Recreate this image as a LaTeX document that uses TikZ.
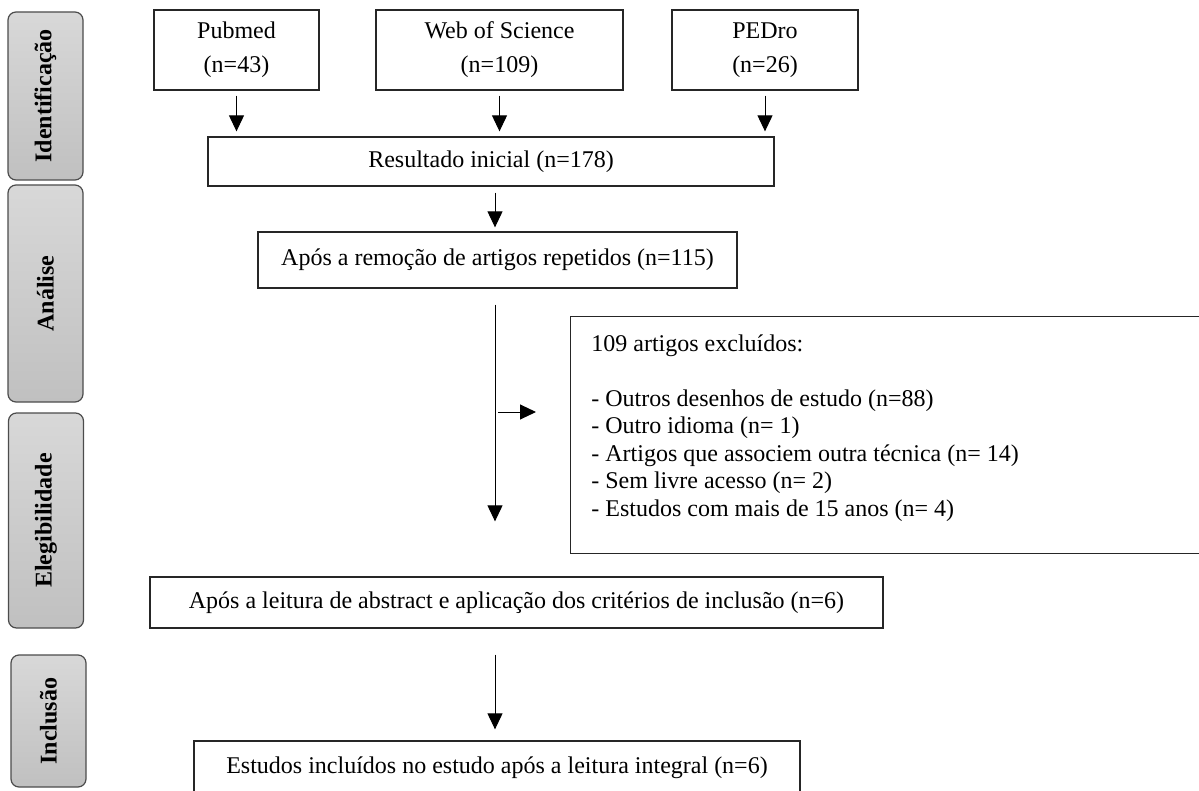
\documentclass[tikz,border=0pt]{standalone}
\usepackage{fontspec}
\setmainfont{Liberation Serif}
\usetikzlibrary{arrows.meta,positioning}
\definecolor{phasetop}{RGB}{216,216,216}
\definecolor{phasebot}{RGB}{192,192,192}

\begin{document}
\begin{tikzpicture}[x=0.5pt,y=-0.5pt,
  box/.style={draw=black!85, line width=0.65pt, align=center, inner sep=0pt, font=\fontsize{12}{17}\selectfont},
  phase/.style={draw=black!70, line width=0.6pt, rounded corners=4pt, top color=phasetop, bottom color=phasebot, minimum width=37.5pt, inner sep=0pt, font=\fontsize{12}{14}\selectfont\bfseries},
  arr/.style={line width=0.5pt, -{Triangle[width=7.5pt,length=8pt]}}]
\useasboundingbox (0,0) rectangle (1199,791);
% phase labels on the left
\foreach \nm/\x/\y/\h/\txt in {ident/45.5/96/84/Identificação, anal/45.5/293.5/108.5/Análise, eleg/46/520.5/107.5/Elegibilidade, incl/48.5/721/66/Inclusão}
  \node[phase, minimum height=\h pt] (\nm) at (\x,\y) {\rotatebox{90}{\txt}};

% databases
\node[box, minimum width=82.5pt, minimum height=40pt] (pub) at (236.5,50) {Pubmed\\(n=43)};
\node[box, minimum width=123.5pt, minimum height=40pt] (web) at (499.5,50) {Web of Science\\(n=109)};
\node[box, minimum width=93pt, minimum height=40pt] (ped) at (765,50) {PEDro\\(n=26)};

% screening steps
\node[box, minimum width=283pt, minimum height=24.5pt] (res) at (491,161.5) {Resultado inicial (n=178)};
\node[box, minimum width=239.5pt, minimum height=28pt] (rem) at (497.5,260) {Após a remoção de artigos repetidos (n=115)};
\node[box, anchor=north west, minimum width=340pt, minimum height=118.5pt] (exc) at (570,316) {};
\node[anchor=north west, align=left, inner sep=0pt, font=\fontsize{12}{13.75}\selectfont] (exclist) at (591,334)
  {109 artigos excluídos:\\[13.75pt]
   - Outros desenhos de estudo (n=88)\\
   - Outro idioma (n= 1)\\
   - Artigos que associem outra técnica (n= 14)\\
   - Sem livre acesso (n= 2)\\
   - Estudos com mais de 15 anos (n= 4)};
\node[box, minimum width=366.5pt, minimum height=25.5pt] (lei) at (516.5,602.5) {Após a leitura de abstract e aplicação dos critérios de inclusão (n=6)};
\node[box, minimum width=303pt, minimum height=27pt] (est) at (497,768) {Estudos incluídos no estudo após a leitura integral (n=6)};

% arrows
\coordinate (spine) at (495,0);
\coordinate (side) at (498,412);
\foreach \n in {pub,web,ped}
  \draw[arr, shorten <=2.5pt, shorten >=2.5pt] (\n.south) -- (\n.south |- res.north);
\draw[arr, shorten <=3pt, shorten >=2pt] (spine |- res.south) -- (spine |- rem.north);
\draw[arr, shorten <=8pt, shorten >=27.5pt] (spine |- rem.south) -- (spine |- lei.north);
\draw[arr, shorten >=17pt] (side) -- (side -| exc.west);
\draw[arr, shorten <=13pt, shorten >=5.5pt] (spine |- lei.south) -- (spine |- est.north);
\end{tikzpicture}
\end{document}
